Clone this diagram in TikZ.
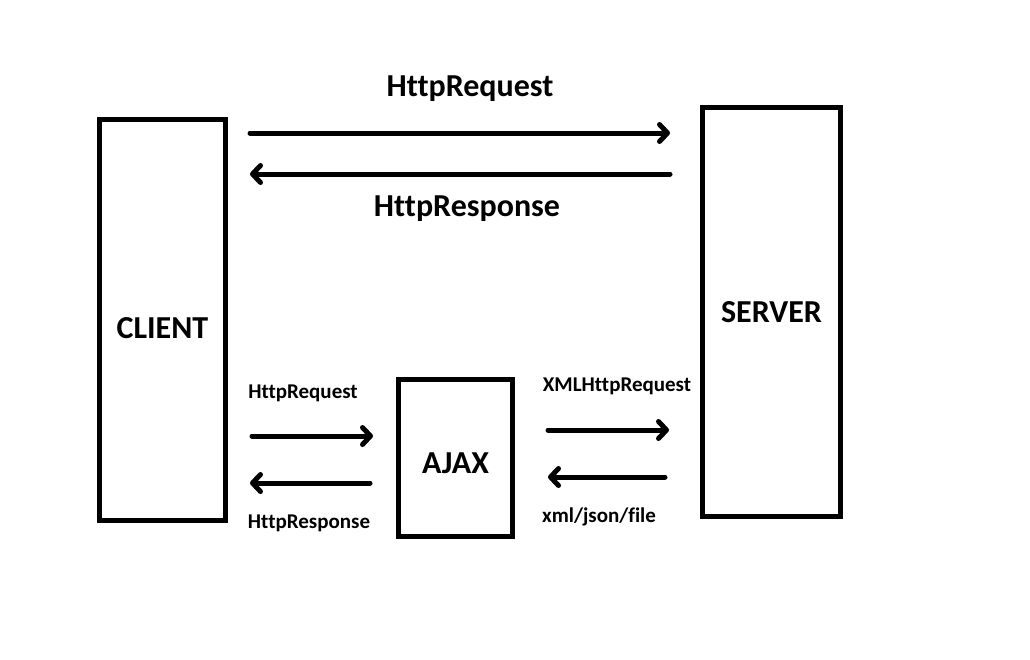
\documentclass[tikz,border=0pt]{standalone}
\usepackage{fontspec}
\setmainfont{Carlito}[Ligatures=NoCommon]
\usetikzlibrary{arrows.meta}

\tikzset{
	box/.style={draw, line width=5pt, inner sep=0pt, font=\bfseries\fontsize{32}{36}\selectfont},
	flow/.style={line width=5pt, line cap=round, -{Straight Barb[round, length=8pt, width=17pt]}},
	biglabel/.style={font=\bfseries\fontsize{32}{36}\selectfont},
	smalllabel/.style={font=\bfseries\fontsize{21}{24}\selectfont}
}

\begin{document}
\begin{tikzpicture}[x=1pt,y=-1pt]
		\useasboundingbox (0,0) rectangle (1030,659);
		
		% the three boxes
		\node[box, minimum width=126pt, minimum height=401pt, text height=37pt, text depth=0pt] (client) at (162.5,320) {CLIENT};
		\node[box, minimum width=138pt, minimum height=409pt] (server) at (771.5,312) {SERVER};
		\node[box, minimum width=114pt, minimum height=157pt, text height=31pt, text depth=0pt] (ajax) at (455.5,458) {AJAX};
		
		% ends of the arrows
		\coordinate (reqA) at (250,133);   \coordinate (reqB) at (670,133);
		\coordinate (resA) at (670,174);   \coordinate (resB) at (250,174);
		\coordinate (creqA) at (252,436);  \coordinate (creqB) at (373,436);
		\coordinate (cresA) at (370,483);  \coordinate (cresB) at (250,483);
		\coordinate (xreqA) at (548,430);  \coordinate (xreqB) at (669,430);
		\coordinate (xresA) at (665,477);  \coordinate (xresB) at (548,477);
		
		% client <-> server
		\draw[flow] (reqA) -- (reqB);
		\draw[flow] (resA) -- (resB);
		\node[biglabel] (reqtext) at (470,89) {HttpRequest};
		\node[biglabel] (restext) at (467,209) {HttpResponse};
		
		% client <-> ajax
		\draw[flow] (creqA) -- (creqB);
		\draw[flow] (cresA) -- (cresB);
		\node[smalllabel] (creqtext) at (303,393) {HttpRequest};
		\node[smalllabel] (crestext) at (309,523) {HttpResponse};
		
		% ajax <-> server
		\draw[flow] (xreqA) -- (xreqB);
		\draw[flow] (xresA) -- (xresB);
		\node[smalllabel] (xreqtext) at (617,386) {XMLHttpRequest};
		\node[smalllabel] (xrestext) at (599,517) {xml/json/file};
\end{tikzpicture}
\end{document}
